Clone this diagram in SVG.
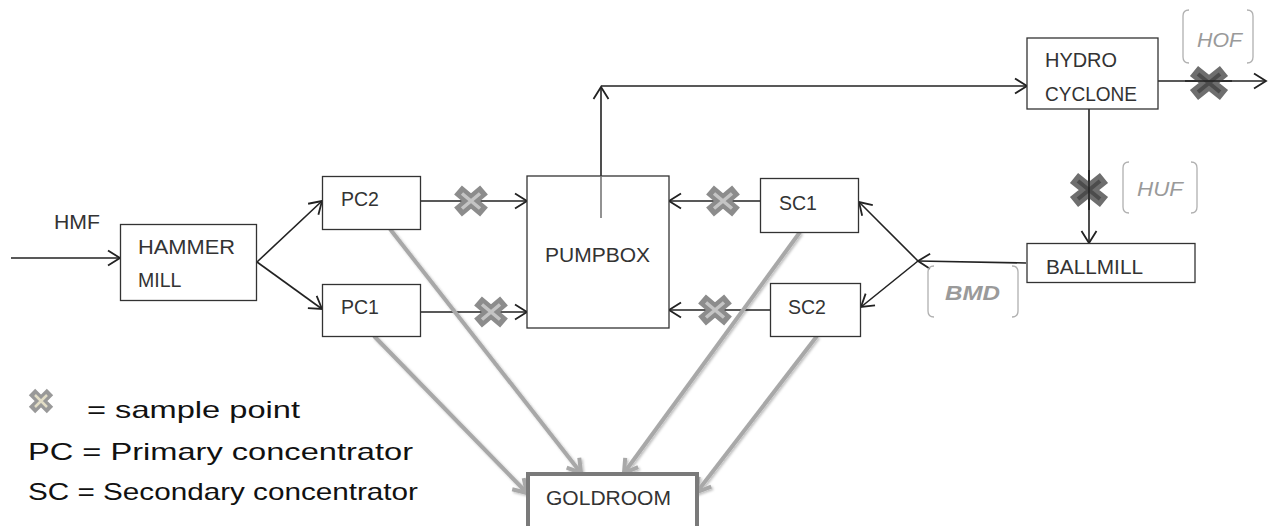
<svg xmlns="http://www.w3.org/2000/svg" width="1270" height="526" viewBox="0 0 1270 526">
<style>
.box{fill:#fff;stroke:#333;stroke-width:1.3}
.lbl{font-family:"Liberation Sans",Arial,sans-serif;font-size:19.5px;fill:#333}
.ln{fill:none;stroke:#222;stroke-width:1.6}
.gl{fill:none;stroke:#a8a8a8;stroke-width:4}
.brk{fill:none;stroke:#b0b0b0;stroke-width:1.3}
.tag{font-family:"Liberation Sans",Arial,sans-serif;font-size:21px;font-style:italic;fill:#9a9a9a}
.leg{font-family:"Liberation Sans",Arial,sans-serif;font-size:24px;fill:#111}
</style>
<defs>
<marker id="ah" markerUnits="userSpaceOnUse" markerWidth="16" markerHeight="16" refX="13" refY="8" orient="auto" overflow="visible">
<path d="M1,0.5 L13,8 L1,15.5" fill="none" stroke="#222" stroke-width="1.8"/>
</marker>
<marker id="gah" markerUnits="userSpaceOnUse" markerWidth="20" markerHeight="20" refX="16" refY="10" orient="auto" overflow="visible">
<path d="M3,2 L16,10 L3,18" fill="none" stroke="#a8a8a8" stroke-width="4"/>
</marker>
<filter id="sh" x="-20%" y="-20%" width="140%" height="140%">
<feDropShadow dx="1.5" dy="1.5" stdDeviation="1.2" flood-color="#000" flood-opacity="0.25"/>
</filter>
<g id="xl">
<path d="M-13,-11 L13,11 M-13,11 L13,-11" stroke="#8c8c8c" stroke-width="12"/>
<path d="M-9,-7.5 L9,7.5 M-9,7.5 L9,-7.5" stroke="#c4c4c4" stroke-width="3.5"/>
</g>
<g id="xd">
<path d="M-15,-12 L15,12 M-15,12 L15,-12" stroke="#6e6e6e" stroke-width="13"/>
<path d="M-11,-9 L11,9 M-11,9 L11,-9" stroke="#4c4c4c" stroke-width="4"/>
</g>
<g id="xs">
<path d="M-9,-9 L9,9 M-9,9 L9,-9" stroke="#999" stroke-width="9"/>
<path d="M-6,-6 L6,6 M-6,6 L6,-6" stroke="#e2ddc6" stroke-width="2.5"/>
</g>
</defs>

<g id="connectors">
<line class="ln" x1="11" y1="258" x2="120" y2="258" marker-end="url(#ah)"/>
<line class="ln" x1="257" y1="262" x2="322" y2="201" marker-end="url(#ah)"/>
<line class="ln" x1="257" y1="262" x2="322" y2="309" marker-end="url(#ah)"/>
<line class="ln" x1="420" y1="201" x2="527" y2="201" marker-end="url(#ah)"/>
<line class="ln" x1="420" y1="312" x2="527" y2="312" marker-end="url(#ah)"/>
<line class="ln" x1="760" y1="201" x2="669" y2="201" marker-end="url(#ah)"/>
<line class="ln" x1="770" y1="310" x2="669" y2="310" marker-end="url(#ah)"/>
<line class="ln" x1="1026" y1="263" x2="918" y2="261" marker-end="url(#ah)"/>
<line class="ln" x1="918" y1="261" x2="859" y2="202" marker-end="url(#ah)"/>
<line class="ln" x1="918" y1="261" x2="861" y2="307" marker-end="url(#ah)"/>
<line class="ln" x1="601" y1="176" x2="601" y2="87" marker-end="url(#ah)"/>
<polyline class="ln" points="601,86 1027,86" marker-end="url(#ah)"/>
<line class="ln" x1="1158" y1="81" x2="1266" y2="81" marker-end="url(#ah)"/>
<line class="ln" x1="1089" y1="109" x2="1089" y2="243" marker-end="url(#ah)"/>
<g filter="url(#sh)">
<line class="gl" x1="390" y1="229" x2="581" y2="473" marker-end="url(#gah)"/>
<line class="gl" x1="374" y1="336" x2="527" y2="493" marker-end="url(#gah)"/>
<line class="gl" x1="800" y1="232" x2="624" y2="473" marker-end="url(#gah)"/>
<line class="gl" x1="817" y1="336" x2="697" y2="492" marker-end="url(#gah)"/>
</g>
</g>

<g id="hammermill"><rect class="box" x="120.5" y="224.5" width="136" height="76"/>
<text class="lbl" x="138" y="254" textLength="97" lengthAdjust="spacingAndGlyphs">HAMMER</text>
<text class="lbl" x="138" y="287">MILL</text></g>
<text id="hmf" class="lbl" x="54" y="229" textLength="46" lengthAdjust="spacingAndGlyphs">HMF</text>
<g id="pc2"><rect class="box" x="322.5" y="176.5" width="98" height="53"/><text class="lbl" x="341" y="206">PC2</text></g>
<g id="pc1"><rect class="box" x="322.5" y="284.5" width="98" height="52"/><text class="lbl" x="341" y="314">PC1</text></g>
<g id="pumpbox"><rect class="box" x="527" y="176" width="142" height="152"/>
<line x1="601" y1="176" x2="601" y2="218" stroke="#777" stroke-width="1.6"/>
<text class="lbl" x="545" y="262" textLength="105" lengthAdjust="spacingAndGlyphs">PUMPBOX</text></g>
<g id="sc1"><rect class="box" x="760.5" y="178.5" width="98" height="54"/><text class="lbl" x="779" y="210">SC1</text></g>
<g id="sc2"><rect class="box" x="770.5" y="283.5" width="90" height="53"/><text class="lbl" x="788" y="314">SC2</text></g>
<g id="hydrocyclone"><rect class="box" x="1027" y="38" width="131" height="71"/>
<text class="lbl" x="1045" y="67" textLength="72" lengthAdjust="spacingAndGlyphs">HYDRO</text>
<text class="lbl" x="1045" y="101" textLength="92" lengthAdjust="spacingAndGlyphs">CYCLONE</text></g>
<g id="ballmill"><rect class="box" x="1027" y="243.5" width="168" height="39"/>
<text class="lbl" x="1046" y="274" textLength="97" lengthAdjust="spacingAndGlyphs">BALLMILL</text></g>
<g id="goldroom"><rect x="528" y="474" width="169" height="54" fill="#fff" stroke="#7a7a7a" stroke-width="4"/>
<text class="lbl" x="546" y="505" textLength="125" lengthAdjust="spacingAndGlyphs">GOLDROOM</text></g>

<g id="samples">
<use href="#xl" x="471" y="201"/>
<use href="#xl" x="491" y="312"/>
<use href="#xl" x="723" y="201"/>
<use href="#xl" x="715" y="310"/>
<use href="#xd" x="1209" y="83"/>
<use href="#xd" x="1089" y="190"/>
<line class="ln" x1="1185" y1="81" x2="1232" y2="81"/>
<line class="ln" x1="1089" y1="170" x2="1089" y2="210"/>
</g>

<g id="tag-hof">
<path class="brk" d="M1189,10 Q1183,10 1183,16 V57 Q1183,63 1189,63"/>
<path class="brk" d="M1247,10 Q1253,10 1253,16 V57 Q1253,63 1247,63"/>
<text class="tag" x="1197" y="47" textLength="45" lengthAdjust="spacingAndGlyphs">HOF</text></g>
<g id="tag-huf">
<path class="brk" d="M1129,162 Q1123,162 1123,168 V207 Q1123,213 1129,213"/>
<path class="brk" d="M1191,162 Q1197,162 1197,168 V207 Q1197,213 1191,213"/>
<text class="tag" x="1137" y="196" textLength="46" lengthAdjust="spacingAndGlyphs">HUF</text></g>
<g id="tag-bmd">
<path class="brk" d="M934,266 Q928,266 928,272 V311 Q928,317 934,317"/>
<path class="brk" d="M1012,266 Q1018,266 1018,272 V311 Q1018,317 1012,317"/>
<text class="tag" x="945" y="300" font-weight="bold" textLength="55" lengthAdjust="spacingAndGlyphs">BMD</text></g>

<g id="legend">
<use href="#xs" x="41" y="401"/>
<text class="leg" x="87" y="418" textLength="213" lengthAdjust="spacingAndGlyphs">= sample point</text>
<text class="leg" x="28" y="460" textLength="385" lengthAdjust="spacingAndGlyphs">PC = Primary concentrator</text>
<text class="leg" x="28" y="500" textLength="390" lengthAdjust="spacingAndGlyphs">SC = Secondary concentrator</text>
</g>
</svg>
